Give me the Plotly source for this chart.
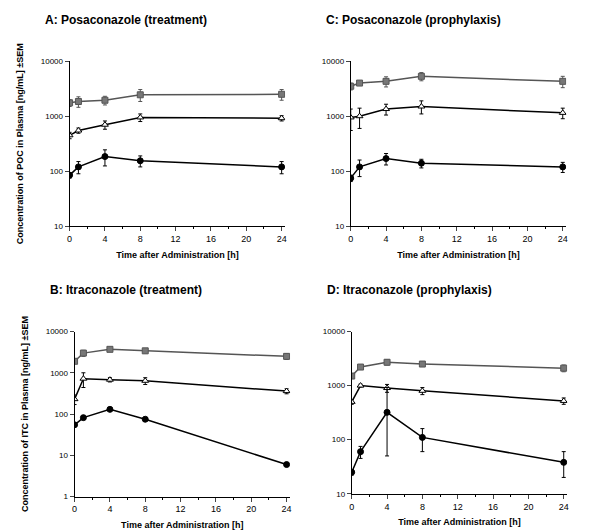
import plotly.graph_objects as go

t = [0, 1, 4, 8, 24]

# A: Posaconazole (treatment)
a_sq = [1750, 1850, 1950, 2450, 2500]
a_sq_err = [250, 400, 350, 600, 550]
a_tri = [450, 550, 700, 950, 920]
a_tri_err = [60, 60, 120, 150, 100]
a_circ = [85, 120, 185, 155, 120]
a_circ_err = [10, 30, 60, 35, 30]

# C: Posaconazole (prophylaxis)
c_sq = [3500, 4000, 4300, 5300, 4300]
c_sq_err = [500, 300, 900, 900, 1000]
c_tri = [950, 1000, 1350, 1500, 1150]
c_tri_err = [400, 400, 300, 400, 250]
c_circ = [75, 120, 170, 140, 120]
c_circ_err = [10, 40, 40, 25, 25]

# B: Itraconazole (treatment)
b_sq = [1900, 3000, 3700, 3400, 2500]
b_sq_err = [200, 500, 300, 400, 400]
b_tri = [230, 720, 680, 640, 360]
b_tri_err = [60, 280, 80, 120, 50]
b_circ = [55, 82, 130, 75, 6]
b_circ_err = [5, 5, 8, 5, 0.4]

# D: Itraconazole (prophylaxis)
d_sq = [1500, 2200, 2700, 2500, 2100]
d_sq_err = [150, 200, 300, 200, 300]
d_tri = [500, 1000, 900, 800, 520]
d_tri_err = [50, 60, 150, 120, 70]
d_circ = [25, 60, 320, 110, 38]
d_circ_err = [3, 15, 600, 50, 22]
d_circ_errm = [3, 15, 270, 50, 18]

panels = [
    ("A: Posaconazole (treatment)", a_sq, a_sq_err, a_tri, a_tri_err, a_circ, a_circ_err, None, [1, 4]),
    ("C: Posaconazole (prophylaxis)", c_sq, c_sq_err, c_tri, c_tri_err, c_circ, c_circ_err, None, [1, 4]),
    ("B: Itraconazole (treatment)", b_sq, b_sq_err, b_tri, b_tri_err, b_circ, b_circ_err, None, [0, 4]),
    ("D: Itraconazole (prophylaxis)", d_sq, d_sq_err, d_tri, d_tri_err, d_circ, d_circ_err, d_circ_errm, [1, 4]),
]

W, H = 600, 532
FONT = "Liberation Sans"
boxes = [(59, 276, 50, 218), (342, 559, 50, 218), (64, 281, 325, 493), (343, 560, 325, 490)]

fig = go.Figure()
for i, (p, box) in enumerate(zip(panels, boxes)):
    title, sq, sqe, tri, trie, ci, cie, cim, yr = p
    n = "" if i == 0 else str(i + 1)
    x0, x1, y0, y1 = box
    for y, e, em, sym, fill, col in [
        (sq, sqe, None, "square", "#777777", "#555555"),
        (tri, trie, None, "triangle-up", "white", "black"),
        (ci, cie, cim, "circle", "black", "black"),
    ]:
        err = dict(type="data", array=e, color=col, thickness=1, width=2)
        if em is not None:
            err["symmetric"] = False
            err["arrayminus"] = em
        fig.add_trace(go.Scatter(
            x=t, y=y, mode="lines+markers", xaxis="x" + n, yaxis="y" + n,
            line=dict(color=col, width=1.5), error_y=err,
            marker=dict(symbol=sym, size=6, color=fill, line=dict(color=col, width=1)),
            showlegend=False))
    ax = dict(domain=[x0 / W, x1 / W], range=[0, 24.4], tickvals=[0, 4, 8, 12, 16, 20, 24],
              ticks="outside", ticklen=4, showline=True, linecolor="black", showgrid=False,
              zeroline=False, anchor="y" + n, tickfont=dict(size=9, family=FONT),
              minor=dict(ticks="outside", ticklen=2, dtick=2, tickcolor="black"),
              title=dict(text="<b>Time after Administration [h]</b>", font=dict(size=9, family=FONT), standoff=8))
    ay = dict(domain=[1 - y1 / H, 1 - y0 / H], type="log", range=yr, ticks="outside", ticklen=4,
              showline=True, linecolor="black", showgrid=False, zeroline=False, anchor="x" + n,
              tickvals=[1, 10, 100, 1000, 10000], ticktext=["1", "10", "100", "1000", "10000"],
              tickfont=dict(size=8, family=FONT))
    if i == 0:
        ay["title"] = dict(text="<b>Concentration of POC in Plasma [ng/mL] ±SEM</b>", font=dict(size=9, family=FONT))
    if i == 2:
        ay["title"] = dict(text="<b>Concentration of ITC in Plasma [ng/mL] ±SEM</b>", font=dict(size=9, family=FONT))
    fig.layout["xaxis" + n] = ax
    fig.layout["yaxis" + n] = ay
    fig.add_annotation(text="<b>" + title + "</b>", xref="paper", yref="paper",
                       x=(x0 - 27) / W, y=1 - (y0 - 42) / H, xanchor="left", yanchor="middle",
                       showarrow=False, font=dict(size=12, family=FONT, color="black"))

fig.update_layout(width=W, height=H, margin=dict(l=0, r=0, t=0, b=0),
                  plot_bgcolor="white", paper_bgcolor="white", font=dict(color="black", family=FONT))
fig.write_html("out.html")
